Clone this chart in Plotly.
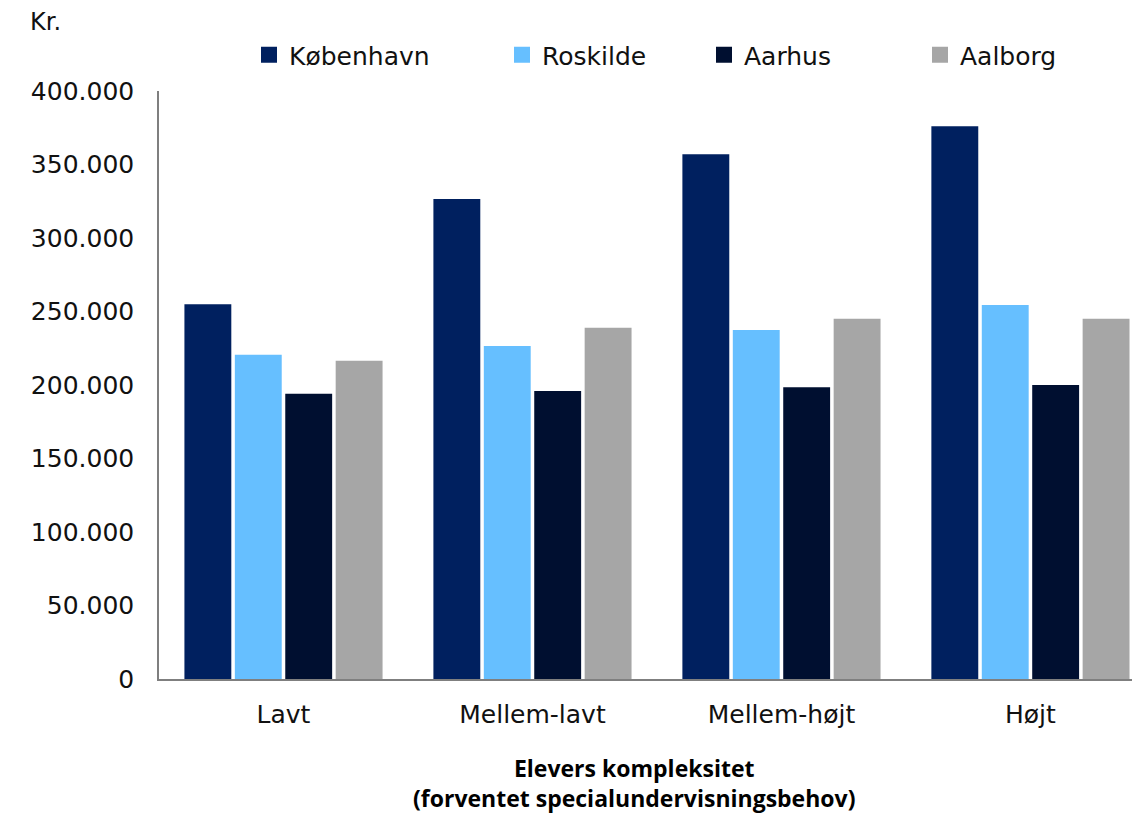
import plotly.graph_objects as go

categories = ["Lavt", "Mellem-lavt", "Mellem-højt", "Højt"]
koebenhavn = [255000, 326500, 357000, 376000]
roskilde = [220500, 226500, 237500, 254500]
aarhus = [194000, 196000, 198500, 200000]
aalborg = [216500, 239000, 245000, 245000]
series_names = ["København", "Roskilde", "Aarhus", "Aalborg"]
colors = ["#00205F", "#66BFFF", "#000F30", "#A6A6A6"]
y_ticks = [0, 50000, 100000, 150000, 200000, 250000, 300000, 350000, 400000]

FONT = "DejaVu Sans"
TITLE_FONT = "Open Sans"
OFF = 8  # page body margin
W, H = 1140 - OFF, 815 - OFF
L, T, B = 159 - OFF, 91 - OFF, 679 - OFF
R = 1140 - OFF
PW, PH = R - L, B - T

def px(x):
    return (x - OFF - L) / PW

def py(y):
    return (B - (y - OFF)) / PH

legend_left_px = [249, 502, 704, 920]
legend_keys = ["legend", "legend2", "legend3", "legend4"]

fig = go.Figure()
for name, vals, col, lk in zip(series_names, [koebenhavn, roskilde, aarhus, aalborg], colors, legend_keys):
    fig.add_trace(go.Bar(name=name, x=categories, y=vals, showlegend=False,
                         marker=dict(color=col, line=dict(width=0))))
    fig.add_trace(go.Scatter(name=name, x=[None], y=[None], mode="markers", legend=lk,
                             marker=dict(symbol="square", size=16, color=col), showlegend=True))

layout_legends = {}
for lk, lx in zip(legend_keys, legend_left_px):
    layout_legends[lk] = dict(orientation="h", x=px(lx), y=py(55), xanchor="left", yanchor="middle",
                              font=dict(family=FONT, size=25, color="#111111"),
                              itemwidth=30, bgcolor="rgba(0,0,0,0)")

fig.update_layout(
    width=W, height=H,
    margin=dict(l=L, r=W - R, t=T, b=H - B, autoexpand=False),
    paper_bgcolor="white", plot_bgcolor="white",
    barmode="group", bargap=0.19, bargroupgap=0.07,
    separators=",.",
    font=dict(family=FONT, size=25, color="#111111"),
    xaxis=dict(range=[-0.5, 3.44], showline=True, linecolor="#7F7F7F", linewidth=1.5,
               ticks="", tickfont=dict(family=FONT, size=25), showgrid=False,
               ticklabelstandoff=12),
    yaxis=dict(range=[0, 400000], tickvals=y_ticks, tickformat=",", showline=True,
               linecolor="#7F7F7F", linewidth=1.5, showgrid=False, zeroline=False,
               ticks="", ticklabelstandoff=18, tickfont=dict(family=FONT, size=25)),
    annotations=[
        dict(text="Kr.", xref="paper", yref="paper", x=px(28), y=py(22),
             xanchor="left", yanchor="middle", showarrow=False,
             font=dict(family=FONT, size=24)),
        dict(text="<b>Elevers kompleksitet<br>(forventet specialundervisningsbehov)</b>",
             xref="paper", yref="paper", x=px(634), y=py(783),
             xanchor="center", yanchor="middle", showarrow=False,
             font=dict(family=TITLE_FONT, size=23, color="#000000")),
    ],
    **layout_legends,
)

fig.write_html("out.html")
